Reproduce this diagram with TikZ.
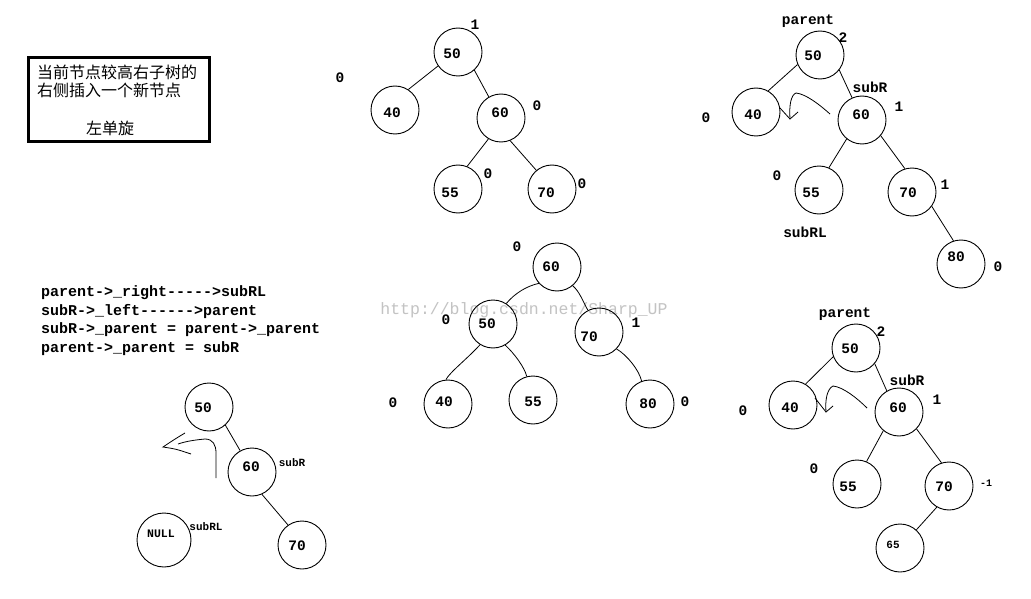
\documentclass[tikz,border=0pt]{standalone}
\usepackage{fontspec}
\setmonofont{Liberation Mono}
\newfontfamily\cjk{Noto Sans CJK SC}
\begin{document}
\begin{tikzpicture}[x=1pt,y=-1pt,
  circ/.style={draw,circle,minimum size=48pt,inner sep=0pt,line width=0.9pt},
  num/.style={inner sep=0pt,font=\ttfamily\bfseries\fontsize{14.5}{16}\selectfont},
  small/.style={inner sep=0pt,font=\ttfamily\bfseries\fontsize{11}{12}\selectfont},
  code/.style={inner sep=0pt,anchor=base west,font=\ttfamily\bfseries\fontsize{15}{17}\selectfont},
  edge/.style={line width=0.8pt},
  cn/.style={inner sep=0pt,font=\cjk\fontsize{16}{18}\selectfont}]
\useasboundingbox[fill=white] (0,0) rectangle (1031,599);
% watermark
\node[inner sep=0pt,text={rgb,255:red,195;green,195;blue,195},font=\ttfamily\fontsize{16.5}{18}\selectfont] (wm) at (524,310) {http://blog.csdn.net/Sharp\_UP};
% box
\draw[line width=3pt] (28,58) rectangle (209,142);
\node[cn,anchor=west] (c1) at (37,72) {当前节点较高右子树的};
\node[cn,anchor=west] (c2) at (37,90) {右侧插入一个新节点};
\node[cn] (c3) at (110,128) {左单旋};
% code lines
\node[code] (l1) at (41,296.5) {parent->\_right----->subRL};
\node[code] (l2) at (41,315) {subR->\_left------>parent};
\node[code] (l3) at (41,333.5) {subR->\_parent = parent->\_parent};
\node[code] (l4) at (41,352) {parent->\_parent = subR};
% ===== top middle tree
\node[circ] (a50) at (458,52) {};
\node[circ] (a40) at (395,110) {};
\node[circ] (a60) at (501,118) {};
\node[circ] (a55) at (458,189) {};
\node[circ] (a70) at (552,189) {};
\node[num] (ta50) at (452,54) {50};
\node[num] (ta40) at (392,113) {40};
\node[num] (ta60) at (500,113) {60};
\node[num] (ta55) at (450,193) {55};
\node[num] (ta70) at (546,193) {70};
\node[num] (ba50) at (475,25) {1};
\node[num] (ba40) at (340,78) {0};
\node[num] (ba60) at (537,106) {0};
\node[num] (ba55) at (488,174) {0};
\node[num] (ba70) at (582,184) {0};
\draw[edge] (a50.215) -- (a40.57);
\draw[edge] (a50.312) -- (a60.120);
\draw[edge] (a60.239) -- (a55.68);
\draw[edge] (a60.292) -- (a70.130);
% ===== top right tree
\node[circ] (b50) at (820,55) {};
\node[circ] (b40) at (756,112) {};
\node[circ] (b60) at (862,120) {};
\node[circ] (b55) at (819,190) {};
\node[circ] (b70) at (912,192) {};
\node[circ] (b80) at (961,264) {};
\node[num] (tb50) at (813,56) {50};
\node[num] (tb40) at (753,115) {40};
\node[num] (tb60) at (861,115) {60};
\node[num] (tb55) at (811,193) {55};
\node[num] (tb70) at (908,193) {70};
\node[num] (tb80) at (956,257) {80};
\node[num] (pb) at (808,21) {parent};
\node[num] (bb50) at (843,38) {2};
\node[num] (bb40) at (706,118) {0};
\node[num] (sb) at (870,87) {subR};
\node[num] (bb60) at (899,107) {1};
\node[num] (bb55) at (777,176) {0};
\node[num] (slb) at (805,232) {subRL};
\node[num] (bb70) at (945,185) {1};
\node[num] (bb80) at (998,267) {0};
\draw[edge] (b50.203) -- (b40.60);
\draw[edge] (b50.322) -- (b60.114);
\draw[edge] (b60.231) -- (b55.66);
\draw[edge] (b60.320) -- (b70.107);
\draw[edge] (b70.324) -- (b80.108);
\draw[edge] (780,108) -- (790,119) -- (798,112);
\draw[edge] (790,119) .. controls (789,105) and (791,95) .. (796,93) .. controls (806,94) and (820,105) .. (830,114);
% ===== middle tree
\node[circ] (c60) at (557,267) {};
\node[circ] (c50) at (493,324) {};
\node[circ] (c70) at (599,332) {};
\node[circ] (c40) at (448,404) {};
\node[circ] (c55) at (533,400) {};
\node[circ] (c80) at (650,404) {};
\node[num] (tc60) at (551,267) {60};
\node[num] (tc50) at (487,324) {50};
\node[num] (tc70) at (589,337) {70};
\node[num] (tc40) at (444,402) {40};
\node[num] (tc55) at (533,402) {55};
\node[num] (tc80) at (648,404) {80};
\node[num] (bc60) at (517,247) {0};
\node[num] (bc50) at (446,320) {0};
\node[num] (bc70) at (636,323) {1};
\node[num] (bc40) at (393,403) {0};
\node[num] (bc80) at (685,402) {0};
\draw[edge] (c60.222) .. controls (527,286) and (515,293) .. (c50.57);
\draw[edge] (c60.310) .. controls (580,292) and (583,302) .. (c70.117);
\draw[edge] (c50.238) .. controls (467,359) and (450,372) .. (c40.95);
\draw[edge] (c50.300) .. controls (514,353) and (525,368) .. (c55.105);
\draw[edge] (c70.316) .. controls (627,355) and (639,370) .. (c80.110);
% ===== bottom left tree
\node[circ] (d50) at (209,407) {};
\node[circ] (d60) at (252,472) {};
\node[circ] (d70) at (302,545) {};
\node[circ,minimum size=54pt] (dnull) at (164,540) {};
\node[num] (td50) at (203,408) {50};
\node[num] (td60) at (251,467) {60};
\node[num] (td70) at (297,546) {70};
\node[small,font=\ttfamily\bfseries\fontsize{11.5}{12}\selectfont] (tdn) at (161,534) {NULL};
\node[small] (sd) at (292,463) {subR};
\node[small] (sld) at (206,527) {subRL};
\draw[edge] (d50.312) -- (d60.119);
\draw[edge] (d60.294) -- (d70.125);
\draw[edge] (216,478) -- (216,453) .. controls (216,445) and (213,439) .. (205,439) .. controls (195,440) and (187,441) .. (178,444);
\draw[edge] (185,433) .. controls (175,439) .. (163,447) .. controls (176,449) .. (191,454);
% ===== bottom right tree
\node[circ] (e50) at (856,348) {};
\node[circ] (e40) at (793,405) {};
\node[circ] (e60) at (899,412) {};
\node[circ] (e55) at (857,484) {};
\node[circ] (e70) at (949,486) {};
\node[circ] (e65) at (900,548) {};
\node[num] (te50) at (850,349) {50};
\node[num] (te40) at (790,408) {40};
\node[num] (te60) at (898,408) {60};
\node[num] (te55) at (848,487) {55};
\node[num] (te70) at (944,487) {70};
\node[small] (te65) at (893,545) {65};
\node[num] (pe) at (845,314) {parent};
\node[num] (be50) at (881,332) {2};
\node[num] (be40) at (743,411) {0};
\node[num] (se) at (907,380) {subR};
\node[num] (be60) at (937,400) {1};
\node[num] (be55) at (814,469) {0};
\node[small,font=\ttfamily\bfseries\fontsize{10}{11}\selectfont] (be70) at (986,483) {-1};
\draw[edge] (e50.201) -- (e40.59);
\draw[edge] (e50.320) -- (e60.120);
\draw[edge] (e60.230) -- (e55.67);
\draw[edge] (e60.316) -- (e70.108);
\draw[edge] (e70.240) -- (e65.48);
\draw[edge] (815,398) -- (826,412) -- (833,406);
\draw[edge] (826,412) .. controls (825,400) and (827,389) .. (833,386) .. controls (843,387) and (857,398) .. (867,408);
\end{tikzpicture}
\end{document}
